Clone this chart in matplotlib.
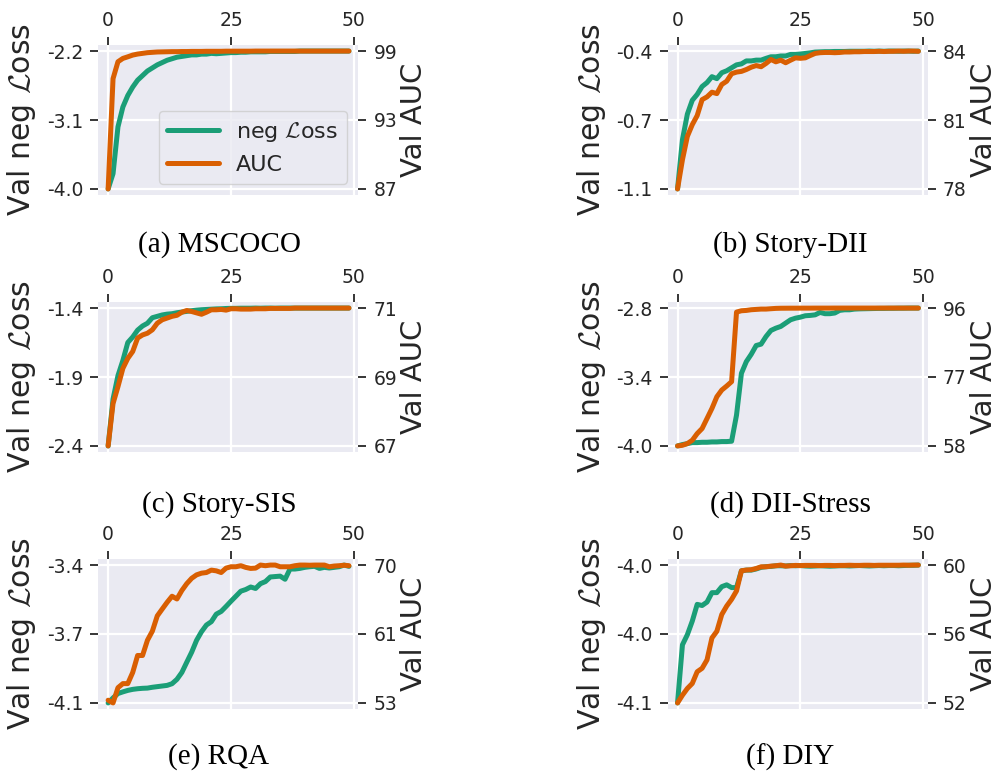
import numpy as np
import matplotlib
matplotlib.use("Agg")
import matplotlib.pyplot as plt
import seaborn as sns

sns.set_theme(style="darkgrid")
plt.rcParams["font.family"] = ["DejaVu Sans"]
plt.rcParams["mathtext.fontset"] = "cm"
plt.rcParams["axes.unicode_minus"] = False
plt.rcParams["grid.linewidth"] = 1.6

GREEN = "#1b9e77"
ORANGE = "#d95f02"
TEXT = "#262626"

epochs = np.arange(50)

mscoco_loss = [
    -4.00, -3.80, -3.19, -2.93, -2.78, -2.67, -2.58, -2.52, -2.46, -2.42,
    -2.38, -2.35, -2.32, -2.30, -2.28, -2.27, -2.26, -2.25, -2.25, -2.24,
    -2.24, -2.23, -2.235, -2.23, -2.225, -2.22, -2.22, -2.215, -2.215, -2.21,
    -2.21, -2.21, -2.21, -2.205, -2.205, -2.205, -2.205, -2.205, -2.205, -2.20,
    -2.20, -2.20, -2.20, -2.20, -2.20, -2.20, -2.20, -2.20, -2.20, -2.20]
mscoco_auc = [
    87.00, 96.60, 98.07, 98.36, 98.50, 98.65, 98.74, 98.80, 98.86, 98.89,
    98.92, 98.93, 98.94, 98.95, 98.95, 98.96, 98.96, 98.97, 98.97, 98.97,
    98.98, 98.98, 98.98, 98.98, 98.99, 98.99, 98.99, 98.99, 98.99, 98.99,
    99.00, 99.00, 99.00, 99.00, 99.00, 99.00, 99.00, 99.00, 99.00, 99.00,
    99.00, 99.00, 99.00, 99.00, 99.00, 99.00, 99.00, 99.00, 99.00, 99.00]

story_dii_loss = [
    -1.08, -0.83, -0.70, -0.63, -0.60, -0.56, -0.54, -0.51, -0.52, -0.49,
    -0.48, -0.465, -0.45, -0.445, -0.43, -0.43, -0.426, -0.426, -0.417, -0.409,
    -0.409, -0.405, -0.405, -0.397, -0.397, -0.395, -0.392, -0.389, -0.385, -0.384,
    -0.383, -0.383, -0.382, -0.382, -0.382, -0.381, -0.381, -0.381, -0.381, -0.380,
    -0.381, -0.380, -0.381, -0.380, -0.380, -0.381, -0.380, -0.380, -0.381, -0.380]
story_dii_auc = [
    78.10, 79.35, 80.35, 80.85, 81.24, 81.92, 82.04, 82.24, 82.18, 82.57,
    82.71, 83.03, 83.10, 83.13, 83.21, 83.31, 83.38, 83.33, 83.47, 83.64,
    83.54, 83.61, 83.50, 83.61, 83.71, 83.69, 83.71, 83.81, 83.90, 83.93,
    83.94, 83.94, 83.93, 83.94, 83.96, 83.96, 83.97, 83.97, 83.98, 83.98,
    83.98, 83.99, 83.98, 83.99, 83.99, 84.00, 83.99, 84.00, 84.00, 83.99]

story_sis_loss = [
    -2.40, -2.06, -1.89, -1.78, -1.65, -1.61, -1.56, -1.53, -1.51, -1.47,
    -1.46, -1.45, -1.444, -1.441, -1.434, -1.429, -1.424, -1.419, -1.415, -1.412,
    -1.410, -1.408, -1.406, -1.405, -1.403, -1.402, -1.402, -1.401, -1.401, -1.401,
    -1.400, -1.401, -1.400, -1.400, -1.401, -1.400, -1.400, -1.400, -1.400, -1.400,
    -1.400, -1.400, -1.400, -1.400, -1.400, -1.400, -1.400, -1.400, -1.400, -1.400]
story_sis_auc = [
    67.00, 68.23, 68.72, 69.25, 69.54, 69.74, 70.13, 70.22, 70.27, 70.37,
    70.56, 70.66, 70.71, 70.76, 70.79, 70.88, 70.93, 70.90, 70.86, 70.82,
    70.88, 70.95, 70.95, 70.96, 70.94, 70.98, 70.98, 70.97, 70.97, 70.97,
    70.98, 70.98, 70.98, 70.99, 70.99, 70.99, 70.99, 70.99, 71.00, 71.00,
    71.00, 71.00, 71.00, 71.00, 71.00, 71.00, 71.00, 71.00, 71.00, 71.00]

dii_stress_loss = [
    -4.000, -3.988, -3.980, -3.971, -3.971, -3.968, -3.968, -3.965, -3.965, -3.962,
    -3.962, -3.959, -3.732, -3.368, -3.266, -3.202, -3.126, -3.114, -3.048, -2.995,
    -2.975, -2.960, -2.931, -2.902, -2.888, -2.879, -2.867, -2.864, -2.859, -2.838,
    -2.849, -2.849, -2.843, -2.820, -2.815, -2.815, -2.809, -2.807, -2.806, -2.805,
    -2.804, -2.803, -2.803, -2.802, -2.802, -2.801, -2.801, -2.800, -2.800, -2.800]
dii_stress_auc = [
    58.00, 58.18, 58.65, 59.57, 61.41, 62.80, 65.56, 68.33, 71.56, 73.40,
    74.51, 75.71, 94.89, 95.26, 95.35, 95.54, 95.63, 95.72, 95.72, 95.82,
    95.91, 95.95, 95.96, 95.97, 95.97, 95.98, 95.98, 95.98, 95.99, 95.99,
    95.99, 95.99, 96.00, 96.00, 96.00, 96.00, 96.00, 96.00, 96.00, 96.00,
    96.00, 96.00, 96.00, 96.00, 96.00, 96.00, 96.00, 96.00, 96.00, 96.00]

rqa_loss = [
    -4.060, -4.036, -4.015, -4.007, -4.000, -3.995, -3.992, -3.990, -3.989, -3.985,
    -3.982, -3.979, -3.976, -3.968, -3.947, -3.914, -3.865, -3.817, -3.760, -3.719,
    -3.687, -3.671, -3.635, -3.622, -3.598, -3.573, -3.549, -3.525, -3.517, -3.505,
    -3.512, -3.489, -3.479, -3.457, -3.455, -3.453, -3.468, -3.419, -3.419, -3.416,
    -3.411, -3.408, -3.406, -3.416, -3.411, -3.414, -3.411, -3.408, -3.400, -3.406]
rqa_auc = [
    52.94, 52.60, 54.50, 55.01, 55.01, 56.40, 58.52, 58.52, 60.42, 61.56,
    63.46, 64.31, 65.15, 65.91, 65.57, 66.63, 67.48, 68.15, 68.58, 68.79,
    68.87, 69.17, 69.08, 68.87, 69.42, 69.59, 69.59, 69.72, 69.51, 69.38,
    69.42, 69.80, 69.72, 69.80, 69.80, 69.59, 69.59, 69.59, 69.72, 69.80,
    69.80, 69.78, 69.80, 69.80, 69.80, 69.59, 69.68, 69.72, 69.78, 69.72]

diy_loss = [
    -4.0620, -4.0367, -4.0323, -4.0264, -4.0191, -4.0196, -4.0181, -4.0140, -4.0140, -4.0114,
    -4.0106, -4.0118, -4.0118, -4.0045, -4.0042, -4.0042, -4.0037, -4.0030, -4.0027, -4.0026,
    -4.0023, -4.0023, -4.0024, -4.0022, -4.0023, -4.0022, -4.0024, -4.0025, -4.0024, -4.0023,
    -4.0024, -4.0025, -4.0024, -4.0023, -4.0023, -4.0024, -4.0023, -4.0022, -4.0023, -4.0024,
    -4.0023, -4.0022, -4.0023, -4.0022, -4.0022, -4.0023, -4.0022, -4.0021, -4.0021, -4.0020]
diy_auc = [
    52.00, 52.45, 52.84, 53.13, 53.81, 54.01, 54.50, 55.77, 56.16, 57.13,
    57.62, 58.01, 58.50, 59.67, 59.71, 59.73, 59.80, 59.90, 59.90, 59.94,
    59.96, 60.00, 59.94, 59.96, 59.98, 59.97, 59.98, 59.98, 59.98, 59.97,
    59.98, 59.98, 59.97, 59.98, 59.98, 59.99, 59.98, 59.98, 59.99, 59.99,
    59.98, 59.99, 59.99, 59.99, 59.99, 59.99, 60.00, 59.99, 60.00, 60.00]

panels = [
    ("(a) MSCOCO", mscoco_loss, mscoco_auc),
    ("(b) Story-DII", story_dii_loss, story_dii_auc),
    ("(c) Story-SIS", story_sis_loss, story_sis_auc),
    ("(d) DII-Stress", dii_stress_loss, dii_stress_auc),
    ("(e) RQA", rqa_loss, rqa_auc),
    ("(f) DIY", diy_loss, diy_auc),
]
x_ticks = [0, 25, 50]

W, H = 1001, 776
fig = plt.figure(figsize=(W / 100, H / 100), dpi=100)

col_left = [98.3, 667.7]
row_top = [45, 302, 559]
ax_w, ax_h = 260, 150
caption_x = [219, 790]
caption_y = [245, 505, 757]

TICK_FS = 13.5
LABEL_FS = 21
MARGIN = 0.044


def three_ticks(values):
    lo, hi = min(values), max(values)
    return [lo, (lo + hi) / 2, hi], lo, hi


def padded(lo, hi):
    r = hi - lo
    return lo - MARGIN * r, hi + MARGIN * r


for i, (caption, loss, auc) in enumerate(panels):
    r, c = divmod(i, 2)
    left = col_left[c] / W
    bottom = 1 - (row_top[r] + ax_h) / H
    ax = fig.add_axes([left, bottom, ax_w / W, ax_h / H])
    ax2 = ax.twinx()

    ax.plot(epochs, loss, color=GREEN, lw=3.6, solid_capstyle="round",
            label=r"neg $\mathcal{L}$oss")
    ax2.plot(epochs, auc, color=ORANGE, lw=3.6, solid_capstyle="round",
             label="AUC")

    ax.set_xlim(-2.0, 50.9)
    ax.set_xticks(x_ticks)
    ax.xaxis.tick_top()

    lt, llo, lhi = three_ticks(loss)
    ax.set_ylim(*padded(llo, lhi))
    ax.set_yticks(lt)
    ax.set_yticklabels(["%.1f" % v for v in lt])

    at, alo, ahi = three_ticks(auc)
    ax2.set_ylim(*padded(alo, ahi))
    ax2.set_yticks(at)
    ax2.set_yticklabels(["%.0f" % v for v in at])
    ax2.grid(False)

    for a in (ax, ax2):
        a.tick_params(axis="both", which="both", length=6, width=1.3,
                      color=TEXT, labelcolor=TEXT, labelsize=TICK_FS, pad=5)
        for s in a.spines.values():
            s.set_visible(False)

    ax.set_ylabel(r"Val neg $\mathcal{L}$oss", fontsize=21.5, color=TEXT,
                  labelpad=6)
    ax2.set_ylabel("Val AUC", fontsize=LABEL_FS, color=TEXT, labelpad=2)

    if i == 0:
        h1, l1 = ax.get_legend_handles_labels()
        h2, l2 = ax2.get_legend_handles_labels()
        ax2.legend(h1 + h2, l1 + l2, loc="lower right", fontsize=16,
                   handlelength=2.3, labelcolor=TEXT)

    fig.text(caption_x[c] / W, 1 - caption_y[r] / H, caption,
             family="Liberation Serif", fontsize=21, color="black",
             ha="center", va="center")

fig.savefig("out.png", dpi=100)
